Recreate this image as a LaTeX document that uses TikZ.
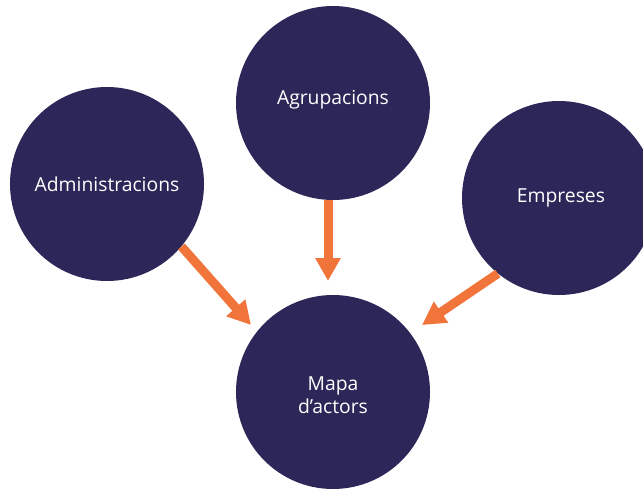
\documentclass[tikz,border=0pt]{standalone}
\usepackage{fontspec}
\setmainfont{Open Sans}
\usetikzlibrary{arrows.meta}
\definecolor{navy}{RGB}{44,39,88}
\definecolor{arrorange}{RGB}{241,117,59}
\tikzset{
  actor/.style={circle, fill=navy, minimum size=194pt, inner sep=0pt, text=white,
    font=\fontsize{19.3}{23}\selectfont, align=center},
  label/.style={text=white, font=\fontsize{19.3}{23}\selectfont, align=center},
  flow/.style={draw=arrorange, line width=9pt,
    -{Triangle[width=24pt,length=23pt]}}
}
\begin{document}
\begin{tikzpicture}[x=1pt,y=-1pt]
\useasboundingbox (0,0) rectangle (643,488);
\clip (0,0) rectangle (643,488);
\fill[white] (0,0) rectangle (643,488);
\node[actor] (adm) at (107,184) {Administracions};
\node[actor] (agr) at (333,103) {};
\node[actor] (emp) at (559,198) {};
\node[actor] (map) at (333,392) {};
\node[label] (agrt) at (333,100) {Agrupacions};
\node[label] (empt) at (561,198) {Empreses};
\node[label] (mapt) at (333,395) {Mapa\\d’actors};
\coordinate (tipA) at (251,325);
\coordinate (tipB) at (328,281);
\coordinate (tipC) at (422,325);
\draw[flow] (adm.-40) -- (tipA);
\draw[flow] (agr.south -| tipB) -- (tipB);
\draw[flow] (emp.231) -- (tipC);
\end{tikzpicture}
\end{document}
